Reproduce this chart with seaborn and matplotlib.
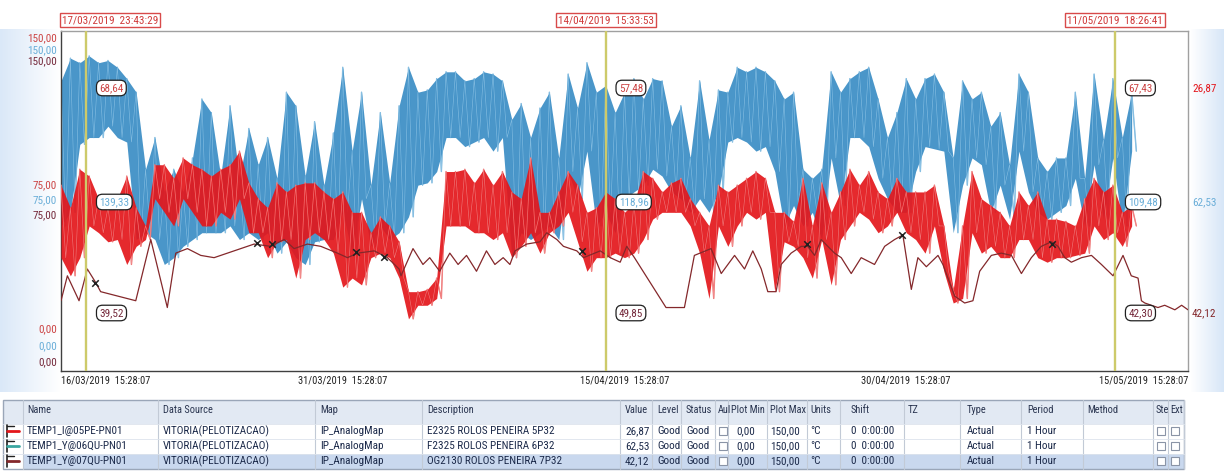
import numpy as np
import pandas as pd
import matplotlib
matplotlib.use('Agg')
import matplotlib.pyplot as plt
from matplotlib.patches import Rectangle
from matplotlib.lines import Line2D
import seaborn as sns

# ---- data (x = days after the trend start, one reading every half day) ----
start = pd.Timestamp('2019-03-16 15:28:07')
span_days = 60
step = 0.5

# TEMP1_Y@06QU (blue) upper / lower swing of each half day
blue_hi = [128, 138, 136, 139, 136, 137, 134, 129, 123, 89,
           103, 79, 89, 79, 94, 120, 114, 86, 117, 85,
           107, 91, 103, 85, 123, 117, 86, 110, 82, 105,
           134, 97, 123, 82, 114, 83, 117, 134, 123, 124,
           129, 132, 132, 128, 129, 132, 131, 128, 111, 118,
           103, 116, 123, 94, 131, 116, 136, 123, 126, 114,
           123, 129, 120, 129, 128, 108, 117, 94, 128, 102,
           124, 123, 134, 132, 134, 132, 128, 120, 123, 89,
           85, 89, 132, 123, 129, 132, 134, 120, 103, 114,
           129, 120, 129, 131, 123, 94, 128, 120, 123, 108,
           114, 91, 131, 123, 94, 88, 94, 94, 123, 85,
           131, 102, 129, 103, 123]
blue_lo = [64, 70, 100, 103, 103, 108, 103, 101, 58, 61,
           58, 47, 50, 55, 58, 61, 61, 61, 64, 58,
           61, 58, 61, 52, 57, 50, 47, 57, 58, 58,
           70, 52, 76, 55, 64, 58, 61, 68, 82, 83,
           88, 103, 103, 99, 101, 103, 97, 103, 50, 61,
           58, 61, 64, 58, 88, 76, 97, 64, 70, 61,
           76, 79, 82, 89, 86, 79, 76, 70, 76, 70,
           79, 101, 103, 101, 97, 99, 88, 64, 73, 64,
           70, 58, 94, 73, 103, 103, 99, 85, 76, 70,
           70, 88, 99, 98, 97, 61, 82, 94, 91, 70,
           82, 67, 97, 79, 70, 67, 70, 73, 85, 64,
           91, 67, 94, 64, 97]

# TEMP1_I@05PE (red)
red_hi = [82, 72, 89, 86, 76, 72, 76, 86, 72, 64,
          91, 91, 85, 94, 91, 89, 86, 89, 91, 97,
          83, 76, 72, 83, 79, 82, 83, 83, 79, 76,
          79, 70, 70, 61, 68, 64, 57, 35, 35, 36,
          41, 88, 88, 89, 83, 89, 82, 88, 79, 76,
          94, 70, 70, 79, 88, 82, 70, 72, 79, 76,
          70, 74, 88, 85, 79, 83, 85, 76, 70, 64,
          82, 79, 82, 85, 88, 85, 70, 70, 66, 85,
          64, 83, 70, 79, 89, 82, 88, 79, 76, 85,
          79, 79, 79, 82, 64, 36, 64, 88, 76, 73,
          70, 64, 79, 73, 79, 67, 67, 66, 64, 76,
          85, 79, 82, 70, 73]
red_lo = [50, 42, 50, 64, 61, 57, 58, 47, 55, 58,
          76, 70, 64, 76, 70, 64, 64, 70, 67, 76,
          61, 61, 50, 57, 58, 41, 58, 61, 58, 52,
          37, 41, 38, 50, 52, 50, 41, 23, 29, 29,
          32, 64, 64, 64, 61, 61, 58, 61, 50, 55,
          61, 52, 61, 64, 70, 57, 44, 50, 50, 52,
          50, 52, 58, 67, 70, 70, 70, 64, 52, 32,
          64, 55, 64, 70, 67, 70, 35, 57, 55, 50,
          41, 58, 38, 58, 64, 70, 67, 61, 64, 70,
          61, 58, 52, 64, 44, 30, 32, 61, 52, 55,
          50, 50, 58, 58, 50, 48, 50, 50, 51, 52,
          64, 58, 61, 55, 64]

# TEMP1_Y@07QU (dark red), slow trace
dark_days = [0, 0.34, 0.96, 1.40, 1.85, 2.11, 3.98, 4.78, 5.66, 6.11,
             6.73, 7.44, 8.15, 8.86, 9.57, 10.28, 11.17, 11.88, 12.41, 13.12,
             13.83, 14.72, 15.25, 15.79, 16.68, 17.38, 18.0, 18.1, 18.74, 19.27,
             19.63, 20.16, 20.7, 21.14, 21.59, 22.12, 22.65, 23.1, 23.54, 23.9,
             24.17, 24.79, 25.5, 25.86, 26.4, 26.75, 27.46, 27.82, 28.71, 29.24,
             29.77, 30.12, 30.53, 32.21, 33.19, 33.72, 34.61, 35.15, 35.86, 36.39,
             36.83, 37.28, 37.63, 38.07, 38.34, 38.87, 39.41, 39.76, 40.12, 40.47,
             41.18, 41.54, 42.07, 42.6, 43.31, 43.85, 44.38, 44.82, 45.27, 45.62,
             46.07, 46.69, 46.95, 47.58, 48.11, 48.55, 48.91, 49.53, 50.06, 50.6,
             51.13, 51.66, 52.19, 52.73, 53.08, 53.44, 53.79, 54.33, 54.86, 55.39,
             56.01, 56.54, 56.98, 57.34, 57.52, 57.7, 58.4, 58.76, 59.3, 59.66, 60]
dark_vals = [31, 42, 31, 45, 39, 35, 31, 58, 28, 52,
             54, 51, 50, 52, 54, 56, 55, 58, 54, 56,
             55, 52, 50, 52, 53, 50, 45, 42, 54, 47,
             50, 44, 52, 47, 51, 44, 53, 47, 50, 47,
             53, 56, 57, 61, 58, 55, 53, 50, 53, 50,
             48, 55, 50, 28, 28, 51, 54, 43, 51, 45,
             53, 45, 35, 35, 47, 52, 55, 55, 51, 58,
             52, 50, 43, 50, 47, 55, 58, 60, 36, 50,
             46, 51, 47, 33, 30, 31, 44, 51, 52, 51,
             43, 50, 55, 57, 55, 50, 48, 50, 51, 47,
             42, 51, 42, 41, 31, 30, 28, 29, 27, 29, 27]

# annotation crosses on the dark trace
mark_days = [1.81, 10.44, 11.24, 15.7, 17.2, 27.76, 39.74, 44.75, 52.74]
mark_vals = [39, 56.5, 56, 52.5, 50.4, 53, 56, 60, 56]

# cursors and their readings
cursor_times = ['2019-03-17 23:43:29', '2019-04-14 15:33:53', '2019-05-11 18:26:41']
cursor_red = ['68,64', '57,48', '67,43']
cursor_blue = ['139,33', '118,96', '109,48']
cursor_dark = ['39,52', '49,85', '42,30']

# trend item table
tag_names = ['TEMP1_I@05PE-PN01', 'TEMP1_Y@06QU-PN01', 'TEMP1_Y@07QU-PN01']
descriptions = ['E2325 ROLOS PENEIRA 5P32', 'F2325 ROLOS PENEIRA 6P32', 'OG2130 ROLOS PENEIRA 7P32']
current_vals = ['26,87', '62,53', '42,12']
scale_labels = ['150,00', '75,00', '0,00']
headers = ['Name', 'Data Source', 'Map', 'Description', 'Value', 'Level', 'Status', 'Aul',
           'Plot Min', 'Plot Max', 'Units', 'Shift', 'TZ', 'Type', 'Period', 'Method', 'Ste', 'Ext']

RED, BLUE, DARK = '#e3161b', '#3a8dc5', '#84282b'
LBL = ['#cc4444', '#6aaed8', '#74283a']


def zigzag(hi, lo):
    t = np.arange(len(hi)) * step
    days = np.column_stack([t, t + step / 2]).ravel()
    vals = np.column_stack([hi, lo]).ravel()
    return pd.DataFrame({'day': days, 'value': vals})


sns.set_style('white')
plt.rcParams['font.family'] = ['Liberation Sans Narrow', 'Roboto Condensed', 'DejaVu Sans Condensed',
                               'Liberation Sans', 'DejaVu Sans']
plt.rcParams['font.stretch'] = 'condensed'

W, H = 1224, 474
fig = plt.figure(figsize=(W / 100, H / 100), dpi=100)
fig.patch.set_facecolor('white')


def fx(x):
    return x / W


def fy(y):
    return 1 - y / H


# light blue backdrop at the sides
bg = fig.add_axes([0, 0, 1, 1], zorder=-10)
GX, GY = np.meshgrid(np.arange(W), np.arange(H))
w = np.clip(1 - GX / 60, 0, 1) * 0.9 + np.clip((GX - 1190) / 34, 0, 1)
w = w * ((GY > 28) & (GY < 392))
tint = np.array([0.84, 0.90, 0.97])
bg.imshow(1 - w[..., None] * (1 - tint), extent=[0, W, H, 0], aspect='auto')
bg.set_xlim(0, W)
bg.set_ylim(H, 0)
bg.axis('off')

# ---- trend plot ----
ax_l, ax_r, ax_t, ax_b = 61, 1188, 31, 371
ax = fig.add_axes([fx(ax_l), fy(ax_b), (ax_r - ax_l) / W, (ax_b - ax_t) / H])
ax.set_facecolor('white')

t_half = np.arange(len(blue_hi)) * step
blue_zz = zigzag(blue_hi, blue_lo)
red_zz = zigzag(red_hi, red_lo)
# dense band plus the raw swing drawn over it as light hairlines
sns.lineplot(data=blue_zz, x='day', y='value', sort=False, estimator=None,
             color='#79b7de', lw=1.0, ax=ax, zorder=2)
ax.fill_between(t_half, blue_lo, blue_hi, color=BLUE, alpha=0.92, lw=0, zorder=2.1)
sns.lineplot(data=blue_zz, x='day', y='value', sort=False, estimator=None,
             color='#93c6e6', lw=0.5, alpha=0.8, ax=ax, zorder=2.2)
sns.lineplot(data=red_zz, x='day', y='value', sort=False, estimator=None,
             color='#ee6a6a', lw=1.0, ax=ax, zorder=3)
ax.fill_between(t_half, red_lo, red_hi, color=RED, alpha=0.92, lw=0, zorder=3.1)
sns.lineplot(data=red_zz, x='day', y='value', sort=False, estimator=None,
             color='#f39a9a', lw=0.5, alpha=0.7, ax=ax, zorder=3.2)
dark = pd.DataFrame({'day': dark_days, 'value': dark_vals})
sns.lineplot(data=dark, x='day', y='value', sort=False, estimator=None,
             color=DARK, lw=0.9, ax=ax, zorder=4)
sns.scatterplot(x=mark_days, y=mark_vals, marker='x', color='#202020', s=22,
                linewidth=1.1, ax=ax, zorder=5)

ax.set_xlim(0, span_days)
ax.set_ylim(0, 150)
ax.set_xlabel('')
ax.set_ylabel('')

major_days = np.arange(0, span_days + 1, 15)
ax.set_xticks(major_days)
ax.set_xticks(np.arange(0, span_days + 0.01, 1.875), minor=True)
ax.set_xticklabels([f"{start + pd.Timedelta(days=float(d)):%d/%m/%Y}  {start + pd.Timedelta(days=float(d)):%H:%M:%S}"
                    for d in major_days], fontsize=7.5, color='#202020')
xl = ax.get_xticklabels()
xl[0].set_ha('left')
xl[-1].set_ha('right')
ax.set_yticks([0, 75, 150])
ax.set_yticks(np.arange(0, 150.01, 3.75), minor=True)
ax.tick_params(axis='both', which='both', direction='in', color='#303030', width=0.8)
ax.tick_params(which='major', length=5, pad=3)
ax.tick_params(which='minor', length=3)
ax.tick_params(axis='y', labelleft=False)

for side in ['top', 'right']:
    ax.spines[side].set_color('#a0a0a0')
for side in ['left', 'bottom']:
    ax.spines[side].set_color('#404040')
for s in ax.spines.values():
    s.set_linewidth(1)

# stacked scale labels on the left (red, blue, dark for each level)
label_rows = [[38, 50, 61], [185, 200, 215], [329, 346, 362]]
for text, rows in zip(scale_labels, label_rows):
    for y, c in zip(rows, LBL):
        fig.text(fx(57), fy(y), text, color=c, fontsize=8, ha='right', va='center')

# cursors
cursor_days = [(pd.Timestamp(t) - start) / pd.Timedelta(days=1) for t in cursor_times]
row_frac = [(ax_b - y) / (ax_b - ax_t) for y in [88, 202, 313]]
for i, d in enumerate(cursor_days):
    ax.axvline(d, color='#cdca6a', lw=1.7, zorder=6)
    for txt, yf, c in zip([cursor_red[i], cursor_blue[i], cursor_dark[i]], row_frac, LBL):
        ax.annotate(txt, xy=(d, yf), xycoords=('data', 'axes fraction'), xytext=(13, 0),
                    textcoords='offset pixels', ha='left', va='center', fontsize=8, color=c,
                    bbox=dict(boxstyle='round,pad=0.25,rounding_size=0.55', fc='white', ec='#202020', lw=0.9),
                    zorder=7)
    ts = pd.Timestamp(cursor_times[i])
    cx = ax_l + d / span_days * (ax_r - ax_l)
    if cx - 48 < ax_l:
        tx, ha = ax_l + 1, 'left'
    else:
        tx, ha = cx, 'center'
    fig.text(fx(tx), fy(20), f"{ts:%d/%m/%Y}  {ts:%H:%M:%S}", color='#d03a3a', fontsize=8,
             ha=ha, va='center',
             bbox=dict(boxstyle='square,pad=0.2', fc='white', ec='#d84a4a', lw=1))

# current values at the right edge
for val, y, c in zip(current_vals, [88, 202, 313], [RED, '#6aaed8', DARK]):
    fig.text(fx(1192), fy(y), val, color=c, fontsize=8, ha='left', va='center')

# ---- trend item table ----
sep_x = [23, 158, 315, 422, 620, 652, 681, 715, 728, 767, 807, 840, 904, 960, 1021, 1083, 1153, 1168, 1184]
head_x = [27, 163, 320, 427, 625, 657, 686, 718, 731, 770, 810, 851, 908, 967, 1027, 1087, 1156, 1170]
head_c, row_c, row_h = 410, [431, 446, 461], 15
head_top, head_bot = 400, 423.5
tab_bot = row_c[-1] + row_h / 2


def frect(x0, y0, x1, y1, **kw):
    fig.add_artist(Rectangle((fx(x0), fy(y1)), (x1 - x0) / W, (y1 - y0) / H,
                             transform=fig.transFigure, **kw))


def fline(xs, ys, **kw):
    fig.add_artist(Line2D([fx(x) for x in xs], [fy(y) for y in ys], transform=fig.transFigure, **kw))


frect(3, head_top, 1184, head_bot, fc='#e2e9f3', ec='none')
frect(23, row_c[2] - row_h / 2, 1184, tab_bot, fc='#c9d8ee', ec='none')
frect(3, head_top, 1184, tab_bot, fc='none', ec='#9aa6b8', lw=1)
for x in sep_x:
    fline([x, x], [head_top, tab_bot], color='#c2cad6', lw=0.8)
for y in [head_bot] + [r + row_h / 2 for r in row_c[:-1]]:
    fline([3, 1184], [y, y], color='#dde3ec', lw=0.6)

for hx, h in zip(head_x, headers):
    fig.text(fx(hx), fy(head_c), h, fontsize=7.5, color='#2a3550', va='center')

for i, (nm, desc, val) in enumerate(zip(tag_names, descriptions, current_vals)):
    cells = [nm, 'VITORIA(PELOTIZACAO)', 'IP_AnalogMap', desc, val, 'Good', 'Good', None,
             '0,00', '150,00', '°C', '0  0:00:00', '', 'Actual', '1 Hour', '', None, None]
    y = row_c[i]
    for j, (hx, c) in enumerate(zip(head_x, cells)):
        if c is None:
            frect(hx + 1, y - 4, hx + 9, y + 4, fc='white', ec='#8a94a6', lw=0.8)
        elif c:
            off = 5 if j == 8 else 0
            fig.text(fx(hx + off), fy(y), c, fontsize=8, color='#1c2a4a', va='center')
    # legend swatch
    col = [RED, '#3aa6a0', DARK][i]
    fline([7, 7], [y - 6, y + 6], color='#202020', lw=1.2)
    fline([7, 14], [y - 5, y - 5], color='#202020', lw=1)
    fline([7, 19], [y, y], color=col, lw=2)

fig.savefig('out.png', dpi=100)
